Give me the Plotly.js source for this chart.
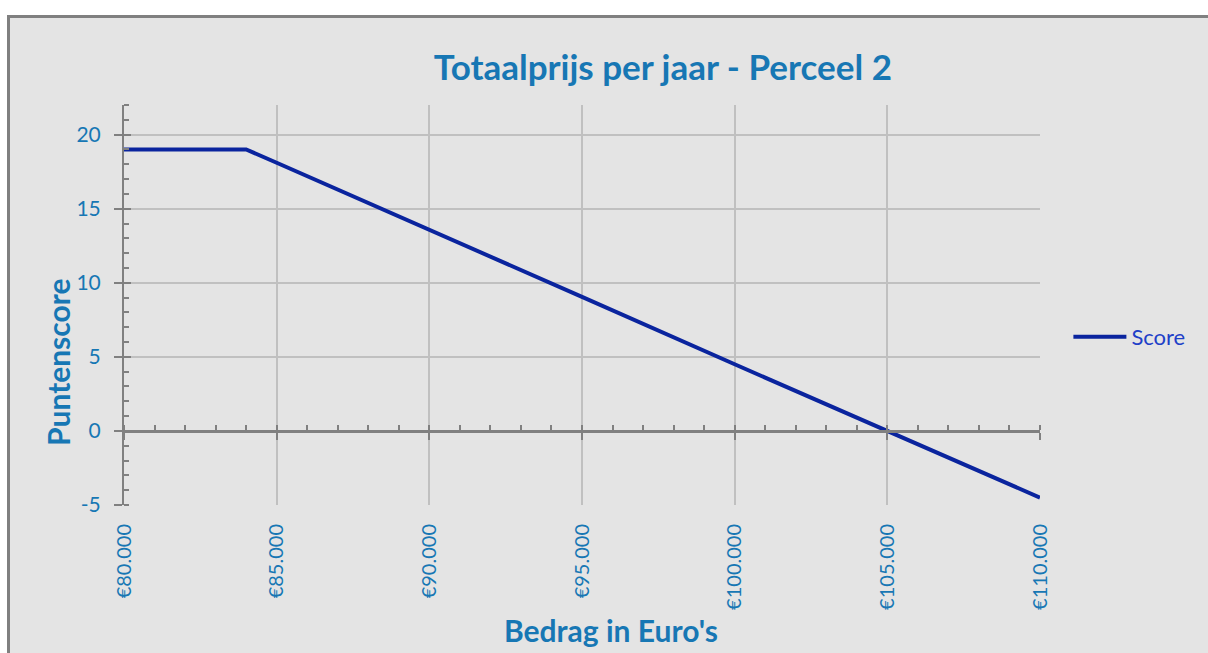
<!DOCTYPE html>
<html>
<head>
<meta charset="utf-8">
<script src="https://cdn.plot.ly/plotly-3.0.1.min.js"></script>
<style>
  html, body { margin: 0; padding: 0; background: #ffffff; overflow: hidden; }
  #frame { position: absolute; left: 7px; top: 15px; width: 1198px; height: 635px;
           border-left: 3px solid #808080; border-top: 3px solid #808080; background: #e4e4e4; }
  #chart { width: 1198px; height: 635px; }
</style>
</head>
<body>
<div id="frame"><div id="chart"></div></div>
<script>
// ---- data ----
const bedrag = [80000, 84000, 85000, 90000, 95000, 100000, 105000, 110000];
const score  = [19, 19, 18.1, 13.6, 9.05, 4.5, 0, -4.5];
const seriesName = 'Score';

const xTickVals = [80000, 85000, 90000, 95000, 100000, 105000, 110000];
const xTickText = ['€80.000', '€85.000', '€90.000', '€95.000', '€100.000', '€105.000', '€110.000'];
const yTickVals = [-5, 0, 5, 10, 15, 20];
const yTickText = ['-5', '0', '5', '10', '15', '20'];

const chartTitle = 'Totaalprijs per jaar - Perceel 2';
const xTitle = "Bedrag in Euro's";
const yTitle = 'Puntenscore';

// ---- styling ----
const FONT = 'Lato, "Open Sans", sans-serif';
const TXT = '#1777b4';
const AX = '#808080';
const GRID = '#c0c0c0';
const xRange = [80000, 110000];
const yRange = [-5, 22];
const zeroPos = (0 - yRange[0]) / (yRange[1] - yRange[0]);

const traces = [
  { x: bedrag, y: score, name: seriesName, type: 'scatter', mode: 'lines',
    line: { color: '#0a249e', width: 4 }, hoverinfo: 'x+y', xaxis: 'x', yaxis: 'y' },
  // helper traces (invisible) so the overlay axes that draw the x-axis line at 0 are rendered
  { x: bedrag, y: score, type: 'scatter', mode: 'lines', line: { width: 0 }, opacity: 0,
    showlegend: false, hoverinfo: 'skip', xaxis: 'x2', yaxis: 'y' },
  { x: bedrag, y: score, type: 'scatter', mode: 'lines', line: { width: 0 }, opacity: 0,
    showlegend: false, hoverinfo: 'skip', xaxis: 'x3', yaxis: 'y' },
  { x: bedrag, y: score, type: 'scatter', mode: 'lines', line: { width: 0 }, opacity: 0,
    showlegend: false, hoverinfo: 'skip', xaxis: 'x', yaxis: 'y2' }
];

const layout = {
  width: 1198, height: 635,
  paper_bgcolor: '#e4e4e4', plot_bgcolor: '#e4e4e4',
  margin: { l: 114, r: 168, t: 87, b: 148 },
  font: { family: FONT, color: TXT },
  title: { text: chartTitle, font: { family: FONT, size: 35, color: TXT, weight: 'bold' },
           xref: 'container', x: 0.545, xanchor: 'center', yref: 'container', y: 0.921, yanchor: 'middle' },
  showlegend: true,
  legend: { x: 1.031, xanchor: 'left', y: 0.42, yanchor: 'middle', bgcolor: 'rgba(0,0,0,0)',
            font: { family: FONT, size: 22, color: '#1e40c8' }, itemwidth: 53 },
  xaxis: {
    range: xRange, tickmode: 'array', tickvals: xTickVals, ticktext: xTickText, tickangle: -90,
    tickfont: { family: FONT, size: 20, color: TXT }, ticks: '', ticklabelstandoff: 14,
    showgrid: true, gridcolor: GRID, gridwidth: 2, showline: false, zeroline: false, fixedrange: true
  },
  xaxis2: {
    overlaying: 'x', anchor: 'free', position: zeroPos, range: xRange,
    tickmode: 'linear', tick0: 80000, dtick: 5000, ticks: 'outside', ticklen: 7, tickwidth: 2, tickcolor: AX,
    minor: { ticks: 'inside', dtick: 1000, ticklen: 5, tickwidth: 2, tickcolor: AX, showgrid: false },
    showticklabels: false, showgrid: false, zeroline: false, showline: true, linecolor: AX, linewidth: 3
  },
  xaxis3: {
    overlaying: 'x', anchor: 'free', position: zeroPos, range: xRange,
    tickmode: 'linear', tick0: 80000, dtick: 5000, ticks: 'inside', ticklen: 5, tickwidth: 2, tickcolor: AX,
    showticklabels: false, showgrid: false, zeroline: false, showline: false
  },
  yaxis: {
    range: yRange, tickmode: 'array', tickvals: yTickVals, ticktext: yTickText,
    tickfont: { family: FONT, size: 21, color: TXT }, ticks: 'outside', ticklen: 8, tickwidth: 2, tickcolor: AX,
    minor: { ticks: 'inside', dtick: 1, tick0: 0, ticklen: 5, tickwidth: 2, tickcolor: AX, showgrid: false },
    ticklabelstandoff: 9,
    showgrid: true, gridcolor: GRID, gridwidth: 2, zeroline: false, showline: true, linecolor: AX, linewidth: 2,
    fixedrange: true
  },
  yaxis2: {
    overlaying: 'y', anchor: 'x', range: yRange, tickmode: 'array', tickvals: yTickVals,
    ticks: 'inside', ticklen: 7, tickwidth: 2, tickcolor: AX, showticklabels: false,
    showgrid: false, zeroline: false, showline: false
  },
  annotations: [
    { text: xTitle, xref: 'paper', yref: 'paper', x: (601 - 114) / 916, y: (487 - 612) / 400,
      xanchor: 'center', yanchor: 'middle', showarrow: false,
      font: { family: FONT, size: 30, color: TXT, weight: 'bold' } },
    { text: yTitle, xref: 'paper', yref: 'paper', x: (48 - 114) / 916, y: (487 - 344) / 400,
      xanchor: 'center', yanchor: 'middle', showarrow: false, textangle: -90,
      font: { family: FONT, size: 30, color: TXT, weight: 'bold' } }
  ]
};

Plotly.newPlot('chart', traces, layout, { displayModeBar: false, staticPlot: false });
</script>
</body>
</html>
